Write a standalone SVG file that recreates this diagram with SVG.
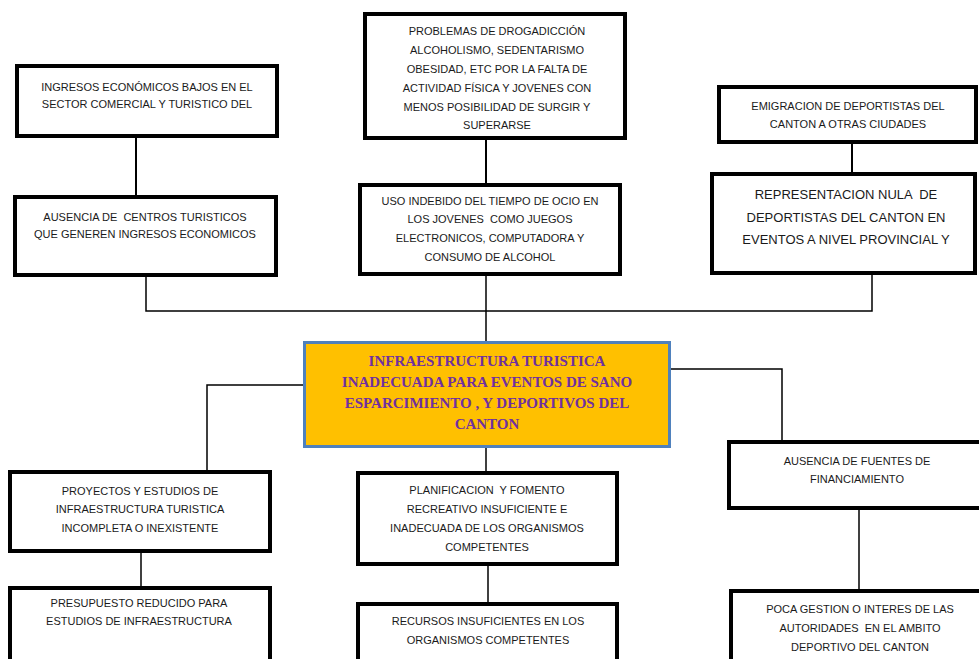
<svg xmlns="http://www.w3.org/2000/svg" width="979" height="659" viewBox="0 0 979 659">
<style>
.box{fill:#fff;stroke:#000;stroke-width:4}
.t{font-family:"Liberation Sans",Arial,sans-serif;font-size:11px;fill:#1a1a1a;text-anchor:middle;white-space:pre}
.tb{font-family:"Liberation Sans",Arial,sans-serif;font-size:13px;fill:#1a1a1a;text-anchor:middle;white-space:pre}
.ct{font-family:"Liberation Serif","Times New Roman",serif;font-size:15px;font-weight:bold;fill:#7030A0;text-anchor:middle}
.c{fill:none;stroke:#000;stroke-width:1.5}
.c2{fill:none;stroke:#000;stroke-width:2}
</style>
<rect width="979" height="659" fill="#fff"/>
<g id="connectors">
<path class="c2" d="M136 138V197"/>
<path class="c2" d="M486 140V183"/>
<path class="c2" d="M852 144V172"/>
<path class="c" d="M146 277V311H872V275"/>
<path class="c" d="M486 275V341"/>
<path class="c" d="M303 385H207V470"/>
<path class="c" d="M671 369H782V440"/>
<path class="c" d="M486 448V471"/>
<path class="c" d="M141 553V586"/>
<path class="c" d="M488 566V602"/>
<path class="c" d="M859 510V589"/>
</g>
<g id="n1">
<rect class="box" x="17" y="66" width="260" height="70"/>
<text class="t" x="147" y="91">INGRESOS ECONÓMICOS BAJOS EN EL</text>
<text class="t" x="147" y="108">SECTOR COMERCIAL Y TURISTICO DEL</text>
</g>
<g id="n2">
<rect class="box" x="15" y="197" width="261" height="78"/>
<text class="t" x="145" y="221" xml:space="preserve">AUSENCIA DE  CENTROS TURISTICOS</text>
<text class="t" x="145" y="238">QUE GENEREN INGRESOS ECONOMICOS</text>
</g>
<g id="n3">
<rect class="box" x="365" y="14" width="260" height="124"/>
<text class="t" x="497" y="35">PROBLEMAS DE DROGADICCIÓN</text>
<text class="t" x="497" y="54">ALCOHOLISMO, SEDENTARISMO</text>
<text class="t" x="497" y="73">OBESIDAD, ETC POR LA FALTA DE</text>
<text class="t" x="497" y="92">ACTIVIDAD FÍSICA Y JOVENES CON</text>
<text class="t" x="497" y="111">MENOS POSIBILIDAD DE SURGIR Y</text>
<text class="t" x="497" y="129">SUPERARSE</text>
</g>
<g id="n4">
<rect class="box" x="360" y="185" width="260" height="89"/>
<text class="t" x="490" y="205">USO INDEBIDO DEL TIEMPO DE OCIO EN</text>
<text class="t" x="490" y="223" xml:space="preserve">LOS JOVENES  COMO JUEGOS</text>
<text class="t" x="490" y="242">ELECTRONICOS, COMPUTADORA Y</text>
<text class="t" x="490" y="261">CONSUMO DE ALCOHOL</text>
</g>
<g id="n5">
<rect class="box" x="719" y="87" width="257" height="55"/>
<text class="t" x="848" y="110">EMIGRACION DE DEPORTISTAS DEL</text>
<text class="t" x="848" y="128">CANTON A OTRAS CIUDADES</text>
</g>
<g id="n6">
<rect class="box" x="712" y="174" width="263" height="99"/>
<text class="tb" x="846" y="199" xml:space="preserve">REPRESENTACION NULA  DE</text>
<text class="tb" x="846" y="222">DEPORTISTAS DEL CANTON EN</text>
<text class="tb" x="846" y="244">EVENTOS A NIVEL PROVINCIAL Y</text>
</g>
<g id="center">
<rect x="304.5" y="342.5" width="365" height="104" fill="#FFC000" stroke="#4F81BD" stroke-width="3"/>
<text class="ct" x="487" y="366">INFRAESTRUCTURA TURISTICA</text>
<text class="ct" x="487" y="387">INADECUADA PARA EVENTOS DE SANO</text>
<text class="ct" x="487" y="408">ESPARCIMIENTO , Y DEPORTIVOS DEL</text>
<text class="ct" x="487" y="429">CANTON</text>
</g>
<g id="n7">
<rect class="box" x="10" y="472" width="260" height="79"/>
<text class="t" x="140" y="495">PROYECTOS Y ESTUDIOS DE</text>
<text class="t" x="140" y="513">INFRAESTRUCTURA TURISTICA</text>
<text class="t" x="140" y="532">INCOMPLETA O INEXISTENTE</text>
</g>
<g id="n8">
<rect class="box" x="10" y="588" width="260" height="80"/>
<text class="t" x="139" y="607">PRESUPUESTO REDUCIDO PARA</text>
<text class="t" x="139" y="625">ESTUDIOS DE INFRAESTRUCTURA</text>
</g>
<g id="n9">
<rect class="box" x="358" y="473" width="259" height="91"/>
<text class="t" x="487" y="494" xml:space="preserve">PLANIFICACION  Y FOMENTO</text>
<text class="t" x="487" y="513">RECREATIVO INSUFICIENTE E</text>
<text class="t" x="487" y="532">INADECUADA DE LOS ORGANISMOS</text>
<text class="t" x="487" y="551">COMPETENTES</text>
</g>
<g id="n10">
<rect class="box" x="358" y="604" width="259" height="70"/>
<text class="t" x="488" y="625">RECURSOS INSUFICIENTES EN LOS</text>
<text class="t" x="488" y="644">ORGANISMOS COMPETENTES</text>
</g>
<g id="n11">
<rect class="box" x="729" y="442" width="260" height="66"/>
<text class="t" x="857" y="465">AUSENCIA DE FUENTES DE</text>
<text class="t" x="857" y="483">FINANCIAMIENTO</text>
</g>
<g id="n12">
<rect class="box" x="731" y="591" width="260" height="80"/>
<text class="t" x="860" y="613">POCA GESTION O INTERES DE LAS</text>
<text class="t" x="860" y="632" xml:space="preserve">AUTORIDADES  EN EL AMBITO</text>
<text class="t" x="860" y="651">DEPORTIVO DEL CANTON</text>
</g>
</svg>
